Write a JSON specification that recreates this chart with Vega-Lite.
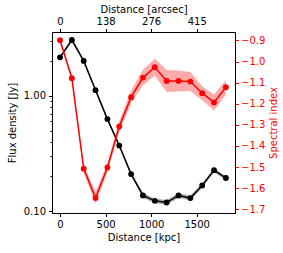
{
  "$schema": "https://vega.github.io/schema/vega-lite/v6.json",
  "width": 183,
  "height": 181,
  "autosize": {"type": "none"},
  "padding": {"left": 52, "top": 32, "right": 48, "bottom": 40},
  "background": "white",
  "config": {
    "view": {"stroke": "black", "strokeWidth": 1},
    "font": "DejaVu Sans",
    "axis": {
      "grid": false,
      "domainColor": "black",
      "domainWidth": 1,
      "tickColor": "black",
      "tickWidth": 1,
      "labelColor": "black",
      "labelFontSize": 10,
      "titleFontSize": 10,
      "titleFontWeight": "normal",
      "labelFont": "DejaVu Sans",
      "titleFont": "DejaVu Sans",
      "titleColor": "black",
      "labelOverlap": false
    }
  },
  "data": {
    "values": [
      {"d": 0, "flux": 2.16, "flux_lo": 2.10, "flux_hi": 2.22, "alpha": -0.899, "alpha_lo": -0.909, "alpha_hi": -0.889},
      {"d": 130, "flux": 3.05, "flux_lo": 2.96, "flux_hi": 3.14, "alpha": -1.079, "alpha_lo": -1.091, "alpha_hi": -1.067},
      {"d": 260, "flux": 2.01, "flux_lo": 1.95, "flux_hi": 2.07, "alpha": -1.508, "alpha_lo": -1.526, "alpha_hi": -1.490},
      {"d": 390, "flux": 1.12, "flux_lo": 1.09, "flux_hi": 1.15, "alpha": -1.647, "alpha_lo": -1.675, "alpha_hi": -1.619},
      {"d": 520, "flux": 0.629, "flux_lo": 0.610, "flux_hi": 0.648, "alpha": -1.502, "alpha_lo": -1.522, "alpha_hi": -1.482},
      {"d": 650, "flux": 0.371, "flux_lo": 0.360, "flux_hi": 0.382, "alpha": -1.308, "alpha_lo": -1.333, "alpha_hi": -1.283},
      {"d": 780, "flux": 0.210, "flux_lo": 0.203, "flux_hi": 0.217, "alpha": -1.169, "alpha_lo": -1.199, "alpha_hi": -1.139},
      {"d": 910, "flux": 0.137, "flux_lo": 0.130, "flux_hi": 0.144, "alpha": -1.076, "alpha_lo": -1.113, "alpha_hi": -1.039},
      {"d": 1040, "flux": 0.123, "flux_lo": 0.117, "flux_hi": 0.129, "alpha": -1.027, "alpha_lo": -1.067, "alpha_hi": -0.987},
      {"d": 1170, "flux": 0.119, "flux_lo": 0.113, "flux_hi": 0.125, "alpha": -1.092, "alpha_lo": -1.144, "alpha_hi": -1.040},
      {"d": 1300, "flux": 0.137, "flux_lo": 0.130, "flux_hi": 0.144, "alpha": -1.092, "alpha_lo": -1.142, "alpha_hi": -1.042},
      {"d": 1430, "flux": 0.130, "flux_lo": 0.124, "flux_hi": 0.137, "alpha": -1.095, "alpha_lo": -1.140, "alpha_hi": -1.050},
      {"d": 1560, "flux": 0.167, "flux_lo": 0.160, "flux_hi": 0.174, "alpha": -1.150, "alpha_lo": -1.183, "alpha_hi": -1.117},
      {"d": 1690, "flux": 0.227, "flux_lo": 0.218, "flux_hi": 0.236, "alpha": -1.194, "alpha_lo": -1.232, "alpha_hi": -1.156},
      {"d": 1820, "flux": 0.194, "flux_lo": 0.186, "flux_hi": 0.202, "alpha": -1.122, "alpha_lo": -1.157, "alpha_hi": -1.087}
    ]
  },
  "layer": [
    {
      "encoding": {
        "x": {
          "field": "d", "type": "quantitative",
          "scale": {"domain": [-88, 1920], "nice": false, "zero": false},
          "axis": {
            "orient": "bottom",
            "title": "Distance [kpc]",
            "values": [0, 500, 1000, 1500],
            "tickCount": 20,
            "tickSize": 3.5,
            "labelPadding": 3,
            "titlePadding": 3,
            "format": "d"
          }
        }
      },
      "layer": [
        {
          "mark": {"type": "area", "color": "black", "opacity": 0.3},
          "encoding": {
            "y": {"field": "flux_lo", "type": "quantitative"},
            "y2": {"field": "flux_hi"}
          }
        },
        {
          "mark": {"type": "line", "color": "black", "strokeWidth": 1.5, "point": {"filled": true, "size": 34, "color": "black", "opacity": 1}},
          "encoding": {
            "y": {
              "field": "flux", "type": "quantitative",
              "scale": {"type": "log", "domain": [0.0965, 3.58], "nice": false},
              "axis": {
                "orient": "left",
                "title": "Flux density [Jy]",
                "values": [0.1, 0.2, 0.3, 0.4, 0.5, 0.6, 0.7, 0.8, 0.9, 1, 2, 3],
                "tickCount": 20,
                "labelExpr": "datum.value == 1 ? '1.00' : (datum.value == 0.1 ? '0.10' : '')",
                "labelOverlap": false,
                "tickSize": {"condition": {"test": "datum.value == 1 || datum.value == 0.1", "value": 3.5}, "value": 2},
                "labelPadding": 3,
                "titlePadding": 6
              }
            }
          }
        }
      ]
    },
    {
      "encoding": {
        "x": {
          "field": "d", "type": "quantitative",
          "axis": {
            "orient": "top",
            "title": "Distance [arcsec]",
            "values": [0, 500, 1000, 1500],
            "tickCount": 20,
            "labelExpr": "datum.value == 0 ? '0' : (datum.value == 500 ? '138' : (datum.value == 1000 ? '276' : '415'))",
            "tickSize": 3.5,
            "labelPadding": 2,
            "titlePadding": 2
          }
        }
      },
      "layer": [
        {
          "mark": {"type": "area", "color": "red", "opacity": 0.33},
          "encoding": {
            "y": {"field": "alpha_lo", "type": "quantitative"},
            "y2": {"field": "alpha_hi"}
          }
        },
        {
          "mark": {"type": "line", "color": "red", "strokeWidth": 1.5, "point": {"filled": true, "size": 34, "color": "red", "opacity": 1}},
          "encoding": {
            "y": {
              "field": "alpha", "type": "quantitative",
              "scale": {"domain": [-1.718, -0.86], "nice": false, "zero": false},
              "axis": {
                "orient": "right",
                "title": "Spectral index",
                "titleColor": "red",
                "titleAngle": 270,
                "values": [-0.9, -1.0, -1.1, -1.2, -1.3, -1.4, -1.5, -1.6, -1.7],
                "tickCount": 20,
                "format": ".1f",
                "labelColor": "red",
                "tickColor": "red",
                "domainColor": "black",
                "tickSize": 3.5,
                "labelPadding": 2,
                "titlePadding": 14,
                "labelOverlap": false
              }
            }
          }
        }
      ]
    }
  ],
  "resolve": {"scale": {"y": "independent"}, "axis": {"x": "independent"}}
}
